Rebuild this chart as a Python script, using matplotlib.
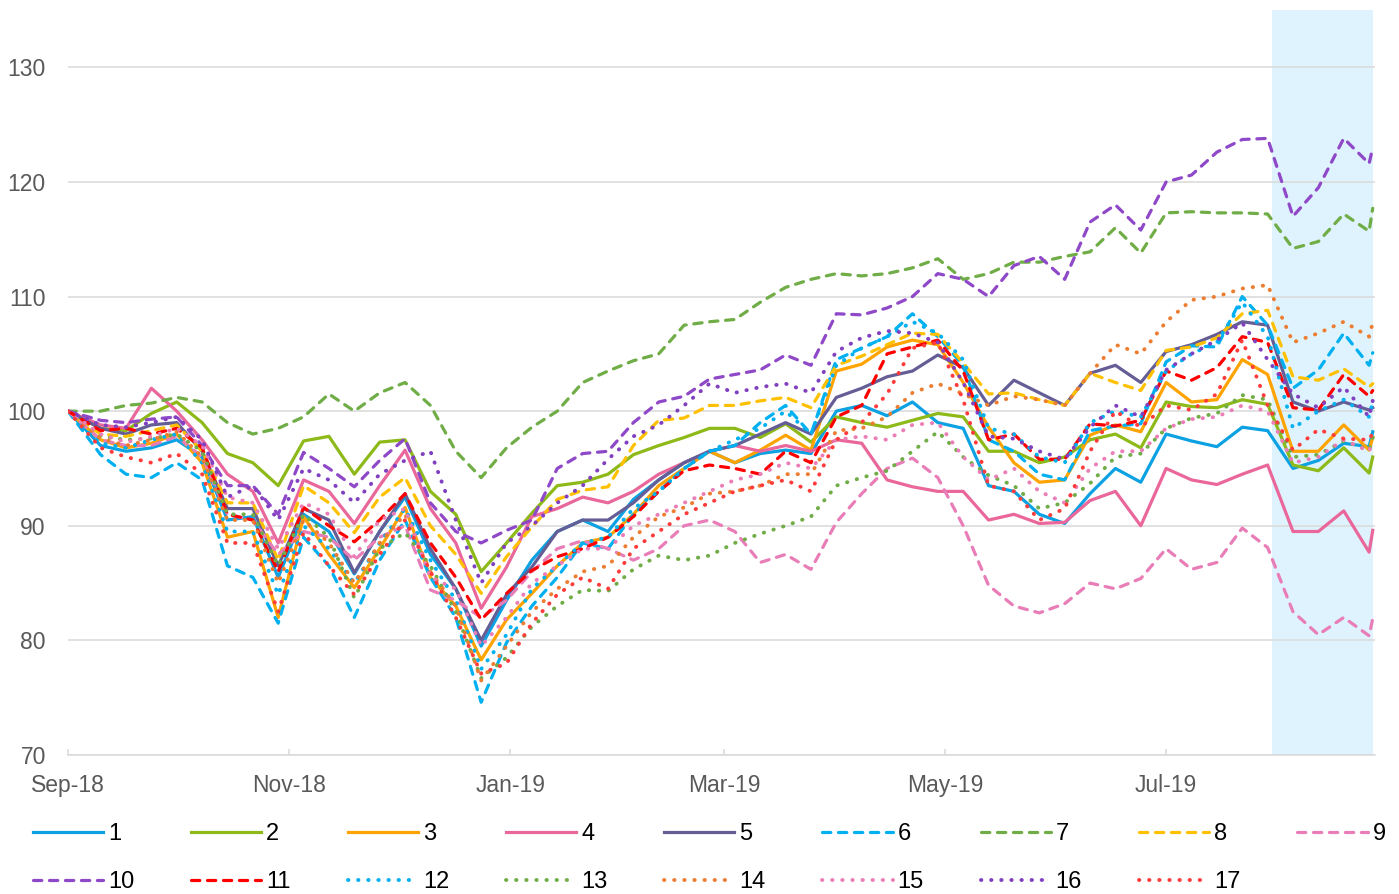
import pandas as pd
import matplotlib.pyplot as plt
import matplotlib.dates as mdates

plt.rcParams['font.family'] = ['Liberation Sans', 'DejaVu Sans']

# weekly observation dates (Sat 1 Sep, then Mondays, then last day)
dates = (pd.DatetimeIndex(['2018-09-01'])
         .append(pd.date_range('2018-09-10', '2019-08-26', freq='7D'))
         .append(pd.DatetimeIndex(['2019-08-27'])))

s01 = [100, 97.0, 96.5, 96.8, 97.5, 96.0, 90.5, 90.8, 85.5, 91.0, 89.5, 85.8, 89.5, 92.5, 87.5, 84.5, 79.5, 83.5,
       87.0, 89.5, 90.5, 89.5, 92.3, 94.0, 95.5, 96.5, 95.5, 96.3, 96.6, 96.3, 100.0, 100.5, 99.6, 100.8, 99.0,
       98.5, 93.5, 93.0, 91.0, 90.2, 92.8, 95.0, 93.8, 98.0, 97.4, 96.9, 98.6, 98.3, 95.0, 95.7, 97.2, 96.9, 98.2]
s02 = [100, 98.5, 98.3, 99.8, 100.8, 99.0, 96.3, 95.5, 93.5, 97.4, 97.8, 94.5, 97.3, 97.5, 93.0, 91.0, 86.0, 88.5,
       91.1, 93.5, 93.8, 94.5, 96.2, 97.0, 97.7, 98.5, 98.5, 97.7, 98.9, 97.3, 99.5, 99.0, 98.6, 99.2, 99.8,
       99.5, 96.5, 96.5, 95.5, 96.0, 97.5, 98.0, 96.8, 100.8, 100.4, 100.3, 101.0, 100.6, 95.3, 94.8, 96.8, 94.6, 96.0]
s03 = [100, 97.5, 96.8, 97.2, 98.0, 95.5, 89.0, 89.5, 82.0, 90.8, 87.5, 84.6, 88.0, 91.6, 85.5, 83.0, 78.3, 81.8,
       84.1, 86.5, 88.5, 89.0, 91.0, 93.5, 95.0, 96.5, 95.5, 96.6, 97.9, 96.6, 103.5, 104.1, 105.6, 106.2, 105.8,
       102.5, 98.6, 95.5, 93.8, 94.0, 97.9, 98.8, 98.2, 102.5, 100.8, 101.0, 104.5, 103.2, 96.5, 96.5, 98.8, 96.6, 97.7]
s04 = [100, 98.8, 98.5, 102.0, 100.0, 97.5, 94.5, 93.0, 88.5, 94.0, 93.0, 90.2, 93.5, 96.6, 91.5, 88.5, 82.8, 86.4,
       90.8, 91.5, 92.5, 92.0, 93.0, 94.5, 95.5, 96.5, 97.0, 96.5, 97.0, 96.5, 97.5, 97.2, 94.0, 93.4, 93.0,
       93.0, 90.5, 91.0, 90.2, 90.3, 92.2, 93.0, 90.0, 95.0, 94.0, 93.6, 94.5, 95.3, 89.5, 89.5, 91.3, 87.7, 89.6]
s05 = [100, 98.5, 98.0, 98.8, 99.0, 96.5, 91.5, 91.5, 86.5, 91.5, 90.5, 85.9, 89.5, 92.8, 88.0, 84.5, 80.0, 84.0,
       86.4, 89.5, 90.5, 90.5, 92.0, 94.0, 95.5, 96.5, 97.0, 98.0, 99.0, 98.0, 101.2, 102.0, 103.0, 103.5, 104.9,
       103.8, 100.5, 102.7, 101.6, 100.5, 103.3, 104.0, 102.5, 105.2, 105.8, 106.7, 107.8, 107.5, 100.8, 100.0, 100.8, 100.1, 100.3]
s06 = [100, 96.2, 94.5, 94.2, 95.5, 94.0, 86.5, 85.5, 81.5, 89.0, 86.5, 82.0, 87.0, 90.5, 85.5, 82.0, 74.6, 79.8,
       83.0, 85.5, 88.5, 88.0, 91.0, 93.0, 95.0, 96.5, 97.0, 99.0, 100.5, 98.0, 104.5, 105.5, 106.5, 108.5, 106.5,
       104.0, 97.5, 96.5, 94.5, 94.0, 98.3, 98.7, 98.9, 104.3, 105.7, 105.6, 110.0, 107.5, 102.0, 103.6, 106.8, 104.0, 105.1]
s07 = [100, 100.0, 100.5, 100.7, 101.2, 100.8, 99.0, 98.0, 98.5, 99.5, 101.5, 100.0, 101.6, 102.5, 100.5, 96.5, 94.2, 96.8,
       98.6, 100.0, 102.5, 103.5, 104.4, 105.0, 107.5, 107.8, 108.0, 109.5, 110.8, 111.5, 112.0, 111.8, 112.0, 112.5, 113.3,
       111.5, 112.0, 113.0, 113.0, 113.5, 113.9, 116.0, 113.8, 117.3, 117.4, 117.3, 117.3, 117.2, 114.2, 114.8, 117.2, 115.7, 117.7]
s08 = [100, 98.0, 97.8, 98.3, 98.8, 96.5, 92.0, 92.0, 87.0, 93.5, 92.0, 89.4, 92.5, 94.2, 90.0, 87.5, 84.1, 87.3,
       89.9, 92.3, 93.1, 93.4, 97.0, 99.2, 99.4, 100.5, 100.5, 100.9, 101.2, 100.3, 104.0, 104.8, 105.8, 106.8, 106.7,
       104.2, 101.5, 101.6, 101.0, 100.5, 103.3, 102.5, 101.8, 105.3, 105.6, 106.4, 108.5, 108.8, 103.0, 102.7, 103.7, 102.1, 102.4]
s09 = [100, 97.5, 97.0, 97.0, 97.8, 96.0, 91.0, 90.5, 87.5, 89.5, 89.0, 87.0, 89.0, 90.0, 84.4, 83.5, 82.0, 83.5,
       86.0, 88.0, 88.7, 88.0, 87.0, 88.0, 90.0, 90.5, 89.5, 86.8, 87.5, 86.2, 90.3, 92.8, 95.0, 95.9, 94.2,
       90.0, 84.8, 83.0, 82.4, 83.2, 85.0, 84.5, 85.4, 88.0, 86.2, 86.8, 89.8, 88.1, 82.5, 80.5, 82.0, 80.4, 81.9]
s10 = [100, 99.2, 99.0, 99.3, 99.5, 97.0, 93.5, 93.5, 91.0, 96.4, 95.0, 93.4, 95.7, 97.6, 92.0, 89.5, 88.5, 89.6,
       90.5, 95.0, 96.3, 96.5, 99.0, 100.8, 101.3, 102.8, 103.2, 103.6, 104.9, 104.0, 108.5, 108.4, 109.0, 110.0, 112.0,
       111.5, 110.0, 112.7, 113.5, 111.5, 116.5, 118.0, 115.8, 120.0, 120.6, 122.6, 123.7, 123.8, 117.0, 119.5, 123.8, 121.6, 123.0]
s11 = [100, 98.3, 98.5, 98.0, 98.5, 96.8, 91.0, 90.5, 86.0, 91.6, 90.0, 88.6, 90.5, 92.8, 88.5, 85.5, 81.8, 84.1,
       86.1, 87.3, 88.0, 89.0, 90.8, 93.0, 94.8, 95.3, 95.0, 94.5, 96.5, 95.5, 99.5, 100.5, 105.0, 105.6, 106.2,
       103.5, 97.5, 98.0, 95.8, 95.8, 98.9, 98.7, 99.2, 103.5, 102.7, 103.8, 106.5, 106.0, 100.3, 100.1, 103.2, 101.3, 101.8]
s12 = [100, 97.2, 96.8, 97.5, 98.0, 95.5, 89.5, 89.5, 84.0, 90.0, 88.0, 85.0, 88.5, 91.5, 87.0, 83.5, 77.5, 80.5,
       84.5, 86.5, 88.5, 89.0, 91.5, 93.0, 95.0, 96.5, 97.5, 98.5, 100.0, 98.0, 104.0, 105.5, 106.5, 107.8, 106.8,
       104.5, 98.5, 98.0, 96.0, 95.5, 99.0, 100.0, 99.5, 103.5, 105.0, 106.0, 109.5, 106.5, 98.5, 100.0, 101.0, 99.5, 100.8]
s13 = [100, 97.8, 97.5, 97.6, 98.0, 96.5, 91.0, 91.0, 86.5, 91.0, 89.0, 83.7, 88.0, 89.4, 86.5, 82.5, 76.7, 78.5,
       81.2, 83.0, 84.4, 84.3, 86.2, 87.4, 87.0, 87.4, 88.5, 89.3, 90.0, 90.8, 93.5, 94.2, 94.8, 96.5, 98.2,
       96.0, 94.4, 93.5, 91.5, 92.0, 93.7, 96.0, 96.3, 98.5, 99.4, 99.8, 101.4, 101.0, 96.0, 96.2, 97.4, 96.6, 97.7]
s14 = [100, 97.6, 97.0, 97.5, 98.2, 96.0, 90.5, 90.5, 85.0, 90.5, 88.5, 85.0, 88.5, 91.0, 86.0, 83.0, 76.5, 79.5,
       82.5, 84.5, 86.0, 86.5, 89.0, 90.8, 91.6, 92.8, 93.0, 93.5, 94.5, 94.5, 98.3, 98.5, 99.5, 101.6, 102.4,
       101.5, 100.5, 101.3, 101.0, 100.5, 103.3, 105.8, 105.0, 107.8, 109.7, 110.0, 110.7, 111.0, 106.0, 106.8, 107.8, 106.5, 107.7]
s15 = [100, 98.0, 97.3, 97.8, 98.5, 97.0, 92.5, 92.0, 88.0, 92.0, 91.0, 87.3, 90.5, 91.5, 85.5, 84.5, 79.5, 82.0,
       85.0, 86.5, 88.0, 88.0, 90.0, 91.0, 92.0, 93.0, 94.0, 94.5, 95.5, 95.0, 97.5, 97.8, 97.5, 98.8, 99.0,
       96.0, 94.0, 95.0, 93.0, 92.0, 95.0, 96.5, 96.5, 98.5, 99.3, 99.5, 100.5, 100.0, 95.5, 96.0, 97.5, 96.5, 97.5]
s16 = [100, 98.8, 98.6, 99.0, 99.5, 97.5, 92.5, 93.5, 90.5, 95.0, 94.0, 92.0, 94.5, 95.7, 96.5, 90.5, 85.0, 88.5,
       90.0, 92.0, 93.5, 95.8, 97.8, 98.8, 100.5, 102.4, 101.6, 102.1, 102.4, 101.6, 105.2, 106.4, 107.0, 106.8, 106.0,
       102.5, 97.8, 97.6, 96.5, 95.8, 98.6, 100.5, 99.5, 103.6, 105.0, 106.2, 107.7, 104.5, 101.5, 100.3, 102.1, 99.5, 100.9]
s17 = [100, 96.8, 96.0, 95.5, 96.3, 94.5, 88.5, 88.5, 82.5, 89.4, 86.5, 84.0, 87.5, 90.5, 86.0, 82.0, 77.1, 78.0,
       81.5, 84.0, 85.5, 84.5, 88.0, 89.5, 91.0, 92.0, 93.0, 93.5, 94.0, 93.0, 97.5, 99.0, 101.5, 105.5, 106.0,
       101.0, 93.5, 93.0, 90.5, 91.5, 96.5, 100.0, 98.6, 100.5, 100.1, 101.5, 106.2, 100.5, 96.6, 98.4, 97.6, 97.5, 98.1]

labels = [str(i) for i in range(1, 18)]
colors = ['#0BA1E2', '#8DB919', '#FFA300', '#E9679A', '#655E96',
          '#00B0F0', '#70AD47', '#FFC000', '#E87DB8', '#8E48C8', '#FF0000',
          '#00B0F0', '#70AD47', '#ED7D31', '#EB7EB7', '#8040C0', '#FF3B3B']
styles = ['-'] * 5 + ['dash'] * 6 + ['dot'] * 6

shade_start = pd.Timestamp('2019-07-30 06:00')
shade_end = pd.Timestamp('2019-08-27')

fig = plt.figure(figsize=(13.99, 8.94), dpi=100)
ax = fig.add_axes([68 / 1399, 139 / 894, 1307 / 1399, 745 / 894])

ax.axvspan(shade_start, shade_end, color='#DFF3FE', zorder=0, lw=0)

series = [s01, s02, s03, s04, s05, s06, s07, s08, s09, s10, s11, s12, s13, s14, s15, s16, s17]
lines = []
for vals, lab, col, st in zip(series, labels, colors, styles):
    if st == '-':
        ln, = ax.plot(dates, vals, color=col, lw=2.3, solid_joinstyle='round', label=lab, zorder=3)
    elif st == 'dash':
        ln, = ax.plot(dates, vals, color=col, lw=2.3, linestyle=(0, (2.6, 2.4)),
                      dash_capstyle='round', dash_joinstyle='round', label=lab, zorder=3)
    else:
        ln, = ax.plot(dates, vals, color=col, lw=2.8, linestyle=(0, (0.1, 2.5)),
                      dash_capstyle='round', label=lab, zorder=3)
    lines.append(ln)

ax.set_ylim(70, 135)
ax.set_yticks([70, 80, 90, 100, 110, 120, 130])
ax.set_xlim(pd.Timestamp('2018-09-01'), pd.Timestamp('2019-08-27 15:00'))
ax.xaxis.set_major_locator(mdates.MonthLocator(bymonth=[1, 3, 5, 7, 9, 11]))
ax.xaxis.set_major_formatter(mdates.DateFormatter('%b-%y'))

ax.grid(axis='y', color='#D9D9D9', lw=1.1, zorder=1)
ax.set_axisbelow(True)
for side in ['top', 'right', 'left']:
    ax.spines[side].set_visible(False)
ax.spines['bottom'].set_color('#D9D9D9')
ax.spines['bottom'].set_linewidth(1.1)
ax.tick_params(axis='y', length=0, pad=16, labelsize=16.5, labelcolor='#595959')
ax.tick_params(axis='x', direction='in', length=4, width=1.1, color='#D9D9D9',
               pad=14, labelsize=16.5, labelcolor='#595959')

# legend laid out in two rows (1-9, 10-17)
order = [0, 9, 1, 10, 2, 11, 3, 12, 4, 13, 5, 14, 6, 15, 7, 16, 8]
fig.legend([lines[i] for i in order], [labels[i] for i in order],
           loc='upper left', bbox_to_anchor=(33 / 1399, 1 - 823 / 894),
           ncol=9, frameon=False, fontsize=17, handlelength=2.97, handletextpad=0.21,
           columnspacing=2.41, labelspacing=1.12, borderpad=0, borderaxespad=0)

fig.savefig('out.png', dpi=100)
